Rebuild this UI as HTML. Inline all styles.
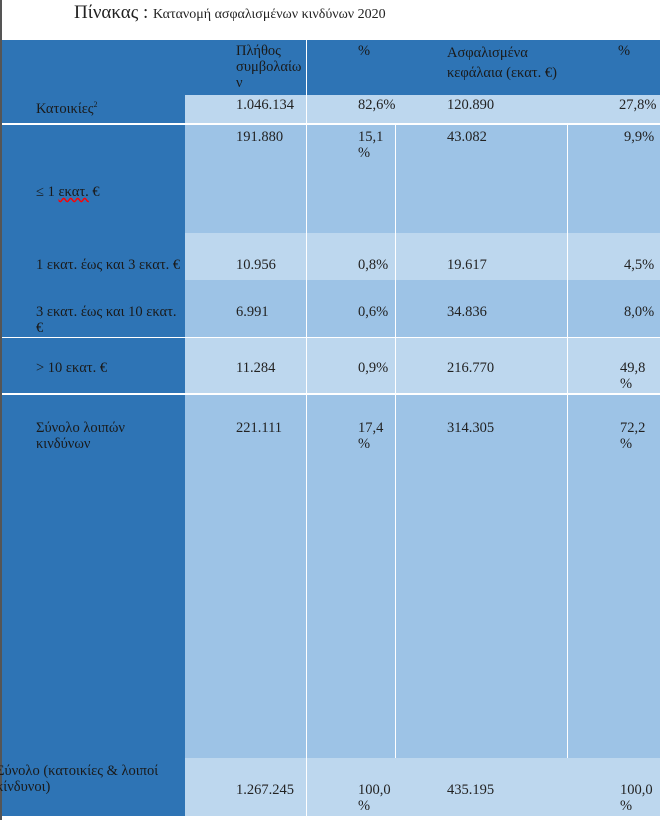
<!DOCTYPE html>
<html><head><meta charset="utf-8"><style>
body{margin:0;width:663px;height:820px;background:#fff;position:relative;overflow:hidden;font-family:"Liberation Serif",serif;font-size:14.5px;color:#222;}
div{position:absolute;box-sizing:border-box;}
.d{background:#2e74b5;}
.m{background:#9dc3e6;}
.l{background:#bdd7ee;}
.t{position:absolute;line-height:16px;white-space:nowrap;}
.w{background:#fff;}
.h{color:#1a1a1a;}
</style></head><body>
<div style="left:0;top:0;width:2px;height:820px;background:#555"></div>
<div class="t" style="left:74px;top:2px;font-size:19px;line-height:22px">Πίνακας : <span style="font-size:14px">Κατανομή ασφαλισμένων κινδύνων 2020</span></div>
<!-- header -->
<div class="d" style="left:2px;top:40px;width:658px;height:55px"></div>
<div class="w" style="left:306px;top:40px;width:1px;height:55px"></div>
<div class="t h" style="left:236px;top:43px;line-height:16px">Πλήθος<br>συμβολαίω<br>ν</div>
<div class="t h" style="left:358px;top:43px">%</div>
<div class="t h" style="left:447px;top:43px;line-height:20px">Ασφαλισμένα<br>κεφάλαια (εκατ. €)</div>
<div class="t h" style="left:618px;top:43px">%</div>
<!-- left column -->
<div class="d" style="left:2px;top:95px;width:183px;height:721px"></div>
<div class="l" style="left:185px;top:95px;width:475px;height:28px"></div>
<div class="w" style="left:2px;top:123px;width:658px;height:2px"></div>
<div class="m" style="left:185px;top:125px;width:475px;height:108px"></div>
<div class="l" style="left:185px;top:233px;width:475px;height:47px"></div>
<div class="m" style="left:185px;top:280px;width:475px;height:57px"></div>
<div class="w" style="left:2px;top:337px;width:658px;height:1px"></div>
<div class="l" style="left:185px;top:338px;width:475px;height:55px"></div>
<div class="w" style="left:2px;top:393px;width:658px;height:2px"></div>
<div class="m" style="left:185px;top:395px;width:475px;height:363px"></div>
<div class="l" style="left:185px;top:758px;width:475px;height:58px"></div>
<div class="w" style="left:306px;top:95px;width:1px;height:721px"></div>
<div class="w" style="left:395px;top:125px;width:1px;height:633px"></div>
<div class="w" style="left:567px;top:125px;width:1px;height:633px"></div>
<!-- text -->
<div class="t h" style="left:36px;top:97px">Κατοικίες<sup style="font-size:8px">2</sup></div>
<div class="t" style="left:236px;top:97px">1.046.134</div>
<div class="t" style="left:358px;top:97px">82,6%</div>
<div class="t" style="left:447px;top:97px">120.890</div>
<div class="t" style="left:619px;top:97px">27,8%</div>

<div class="t h" style="left:36px;top:184px">≤ 1 <span style="text-decoration:underline wavy red">εκατ.</span> €</div>
<div class="t" style="left:236px;top:129px">191.880</div>
<div class="t" style="left:358px;top:129px">15,1<br>%</div>
<div class="t" style="left:447px;top:129px">43.082</div>
<div class="t" style="left:624px;top:129px">9,9%</div>

<div class="t h" style="left:36px;top:257px">1 εκατ. έως και 3 εκατ. €</div>
<div class="t" style="left:236px;top:257px">10.956</div>
<div class="t" style="left:358px;top:257px">0,8%</div>
<div class="t" style="left:447px;top:257px">19.617</div>
<div class="t" style="left:624px;top:257px">4,5%</div>

<div class="t h" style="left:36px;top:304px">3 εκατ. έως και 10 εκατ.<br>€</div>
<div class="t" style="left:236px;top:304px">6.991</div>
<div class="t" style="left:358px;top:304px">0,6%</div>
<div class="t" style="left:447px;top:304px">34.836</div>
<div class="t" style="left:624px;top:304px">8,0%</div>

<div class="t h" style="left:36px;top:360px">&gt; 10 εκατ. €</div>
<div class="t" style="left:236px;top:360px">11.284</div>
<div class="t" style="left:358px;top:360px">0,9%</div>
<div class="t" style="left:447px;top:360px">216.770</div>
<div class="t" style="left:620px;top:360px">49,8<br>%</div>

<div class="t h" style="left:36px;top:420px">Σύνολο λοιπών<br>κινδύνων</div>
<div class="t" style="left:236px;top:420px">221.111</div>
<div class="t" style="left:358px;top:420px">17,4<br>%</div>
<div class="t" style="left:447px;top:420px">314.305</div>
<div class="t" style="left:620px;top:420px">72,2<br>%</div>

<div class="t h" style="left:-4px;top:763px">Σύνολο (κατοικίες &amp; λοιποί<br>κίνδυνοι)</div>
<div class="t" style="left:236px;top:782px">1.267.245</div>
<div class="t" style="left:358px;top:782px">100,0<br>%</div>
<div class="t" style="left:447px;top:782px">435.195</div>
<div class="t" style="left:620px;top:782px">100,0<br>%</div>
</body></html>
